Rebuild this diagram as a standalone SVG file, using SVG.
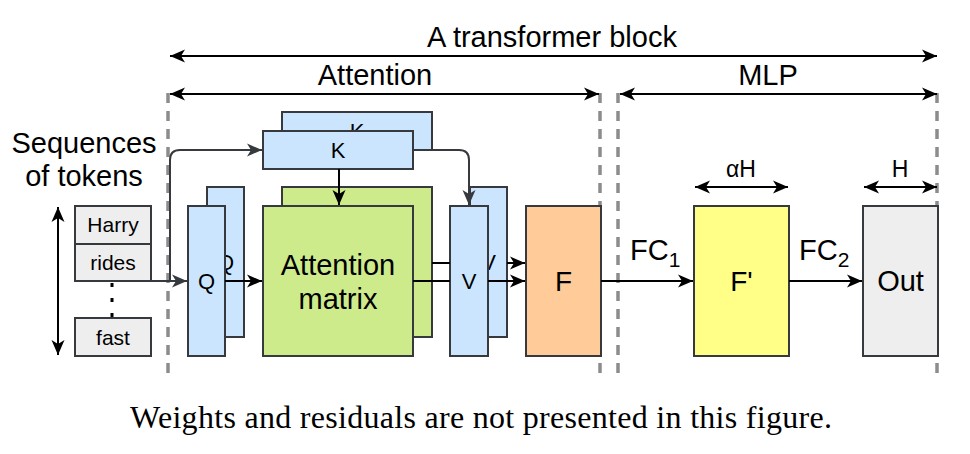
<svg xmlns="http://www.w3.org/2000/svg" width="970" height="454" viewBox="0 0 970 454">
  <style>
    .lbl { font-family: "Liberation Sans", Arial, sans-serif; fill: #000; text-anchor: middle; }
    .big { font-size: 29px; }
    .mid { font-size: 22px; }
    .tok { font-size: 21px; }
    .box { stroke: #36393d; stroke-width: 2; }
    .blue { fill: #cce5ff; }
    .green { fill: #cdeb8b; }
    .orange { fill: #ffcc99; }
    .yellow { fill: #ffff88; }
    .grey { fill: #eeeeee; }
    .sep { stroke: #8c8c8c; stroke-width: 3.5; stroke-dasharray: 10 8; fill: none; }
    .wire { stroke: #000; stroke-width: 2; fill: none; }
    .wire-d { stroke: #36393d; stroke-width: 2; fill: none; }
    .dim { stroke: #000; stroke-width: 2; fill: none; marker-start: url(#tipK); marker-end: url(#tipK); }
    .caption { font-family: "Liberation Serif", "Times New Roman", serif; font-size: 32px; fill: #000; }
  </style>
  <defs>
    <marker id="tipK" viewBox="0 -7 16 14" refX="15" refY="0" markerWidth="16" markerHeight="14" markerUnits="userSpaceOnUse" orient="auto-start-reverse">
      <path d="M0,-6.5 L15,0 L0,6.5 L4,0 Z" fill="#000"/>
    </marker>
    <marker id="tipD" viewBox="0 -7 16 14" refX="15" refY="0" markerWidth="16" markerHeight="14" markerUnits="userSpaceOnUse" orient="auto">
      <path d="M0,-6.5 L15,0 L0,6.5 L4,0 Z" fill="#36393d"/>
    </marker>
  </defs>

  <rect width="970" height="454" fill="#ffffff"/>

  <!-- section separators -->
  <g id="separators">
    <line class="sep" x1="168" y1="93" x2="168" y2="376"/>
    <line class="sep" x1="600" y1="93" x2="600" y2="376"/>
    <line class="sep" x1="618" y1="93" x2="618" y2="376"/>
    <line class="sep" x1="937" y1="93" x2="937" y2="376"/>
  </g>

  <!-- span annotations -->
  <g id="spans">
    <line class="dim" x1="170" y1="56" x2="937" y2="56"/>
    <text class="lbl big" x="552" y="47">A transformer block</text>
    <line class="dim" x1="170" y1="94" x2="599" y2="94"/>
    <text class="lbl big" x="375" y="85">Attention</text>
    <line class="dim" x1="620" y1="94" x2="937" y2="94"/>
    <text class="lbl big" x="768" y="85">MLP</text>
    <line class="dim" x1="695" y1="187" x2="788" y2="187"/>
    <text class="lbl" font-size="23" x="741" y="177">αH</text>
    <line class="dim" x1="864" y1="187" x2="937" y2="187"/>
    <text class="lbl" font-size="23" x="900" y="177">H</text>
  </g>

  <!-- input tokens -->
  <g id="tokens">
    <text class="lbl big" x="84" y="153">Sequences</text>
    <text class="lbl big" x="84" y="186">of tokens</text>
    <line class="dim" x1="58" y1="207" x2="58" y2="355"/>
    <rect class="box grey" x="75" y="206" width="76" height="38"/>
    <text class="lbl tok" x="113" y="232">Harry</text>
    <rect class="box grey" x="75" y="244" width="76" height="37"/>
    <text class="lbl tok" x="113" y="270">rides</text>
    <line x1="112" y1="283" x2="112" y2="318" stroke="#000" stroke-width="3" stroke-dasharray="4 11"/>
    <rect class="box grey" x="75" y="318" width="76" height="38"/>
    <text class="lbl tok" x="113" y="345">fast</text>
  </g>

  <g id="node-q">
    <rect class="box blue" x="207" y="187" width="37" height="150"/>
    <text class="lbl mid" x="225.5" y="270">Q</text>
    <rect class="box blue" x="188" y="206" width="37" height="150"/>
    <text class="lbl mid" x="206.5" y="289">Q</text>
  </g>

  <g id="node-k">
    <rect class="box blue" x="282" y="112" width="150" height="38"/>
    <text class="lbl mid" x="357" y="139">K</text>
    <rect class="box blue" x="263" y="131" width="150" height="38"/>
    <text class="lbl mid" x="338" y="158">K</text>
  </g>

  <g id="node-attn">
    <rect class="box green" x="282" y="187" width="150" height="150"/>
    <rect class="box green" x="263" y="206" width="150" height="150"/>
    <text class="lbl big" x="338" y="275">Attention</text>
    <text class="lbl big" x="338" y="309">matrix</text>
  </g>

  <g id="node-v">
    <rect class="box blue" x="470" y="187" width="37" height="150"/>
    <text class="lbl mid" x="488.5" y="270">V</text>
    <rect class="box blue" x="450" y="206" width="38" height="150"/>
    <text class="lbl mid" x="469" y="289">V</text>
  </g>

  <g id="node-f">
    <rect class="box orange" x="526" y="206" width="75" height="150"/>
    <text class="lbl" font-size="28" x="563.5" y="291">F</text>
  </g>

  <g id="node-fprime">
    <rect class="box yellow" x="694" y="206" width="95" height="150"/>
    <text class="lbl" font-size="28" x="741.5" y="291">F'</text>
  </g>

  <g id="node-out">
    <rect class="box grey" x="863" y="206" width="75" height="150"/>
    <text class="lbl big" x="900.5" y="291">Out</text>
  </g>

  <!-- connectors -->
  <g id="connectors">
    <line class="wire-d" x1="151" y1="281" x2="187" y2="281" marker-end="url(#tipD)"/>
    <path class="wire-d" d="M170,281 V160 Q170,150 180,150 H262" marker-end="url(#tipD)"/>
    <path class="wire-d" d="M413,150 H459 Q469,150 469,160 V205" marker-end="url(#tipD)"/>
    <line class="wire" x1="339" y1="169" x2="339" y2="205" marker-end="url(#tipK)"/>
    <line class="wire" x1="225" y1="281" x2="262" y2="281" marker-end="url(#tipK)"/>
    <line class="wire" x1="432" y1="263" x2="450" y2="263"/>
    <line class="wire" x1="413" y1="281" x2="450" y2="281"/>
    <line class="wire" x1="507" y1="263" x2="525" y2="263" marker-end="url(#tipK)"/>
    <line class="wire" x1="488" y1="281" x2="525" y2="281" marker-end="url(#tipK)"/>
    <line class="wire" x1="601" y1="281" x2="693" y2="281" marker-end="url(#tipK)"/>
    <line class="wire" x1="789" y1="281" x2="862" y2="281" marker-end="url(#tipK)"/>
    <text class="lbl big" x="630" y="260" style="text-anchor:start">FC<tspan font-size="21" dy="7">1</tspan></text>
    <text class="lbl big" x="799" y="260" style="text-anchor:start">FC<tspan font-size="21" dy="7">2</tspan></text>
  </g>

  <text class="caption" x="130" y="428" textLength="702" lengthAdjust="spacing">Weights and residuals are not presented in this figure.</text>
</svg>
